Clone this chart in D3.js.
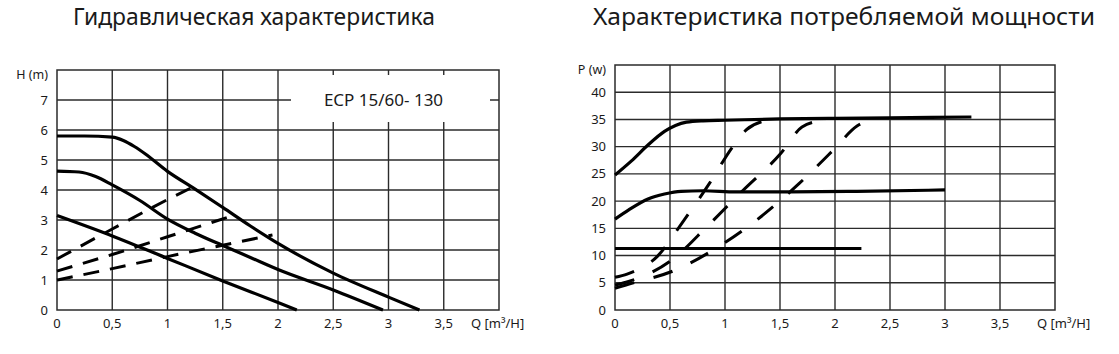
<!DOCTYPE html>
<html>
<head>
<meta charset="utf-8">
<script src="https://cdn.jsdelivr.net/npm/d3@7"></script>
<style>
    body { margin: 0; background: #fff }
    text { font-family: "Noto Sans", sans-serif; fill: #1a1a1a }
</style>
</head>
<body>
<svg id="chart" width="1119" height="354"></svg>
<script>
'use strict'

// --- data ---
const qTicks = [0, 0.5, 1, 1.5, 2, 2.5, 3, 3.5]
const qTickLabels = ['0', '0,5', '1', '1,5', '2', '2,5', '3', '3,5']
const hTicks = [0, 1, 2, 3, 4, 5, 6, 7]
const pTicks = [0, 5, 10, 15, 20, 25, 30, 35, 40]

// hydraulic curves, H (m) against Q (m3/h)
const headHigh = [[0, 5.8], [0.25, 5.8], [0.5, 5.76], [0.6, 5.65], [0.7, 5.45], [0.8, 5.2], [1, 4.62], [1.25, 4.03], [1.5, 3.42], [1.75, 2.8], [2, 2.22], [2.5, 1.23], [3, 0.43], [3.28, 0]]
const headMid = [[0, 4.63], [0.2, 4.6], [0.35, 4.45], [0.5, 4.17], [0.75, 3.65], [1, 3.03], [1.25, 2.56], [1.5, 2.15], [1.75, 1.75], [2, 1.35], [2.5, 0.67], [2.95, 0]]
const headLow = [[0, 3.15], [0.5, 2.47], [1, 1.72], [1.5, 0.97], [2, 0.25], [2.17, 0]]
const headSysA = [[0, 1.7], [0.5, 2.7], [1, 3.68], [1.23, 4.1]]
const headSysB = [[0, 1.3], [0.5, 1.85], [1, 2.44], [1.61, 3.17]]
const headSysC = [[0, 1.0], [0.5, 1.38], [1, 1.78], [1.5, 2.16], [1.95, 2.5]]

// power curves, P (w) against Q (m3/h)
const powerHigh = [[0, 24.8], [0.15, 27.4], [0.3, 30.3], [0.45, 32.8], [0.55, 33.9], [0.65, 34.5], [0.8, 34.75], [1, 34.85], [1.5, 35.1], [2, 35.2], [2.5, 35.3], [3.24, 35.45]]
const powerMid = [[0, 16.7], [0.125, 18.4], [0.3, 20.4], [0.45, 21.3], [0.6, 21.8], [0.8, 21.9], [1.1, 21.7], [1.6, 21.7], [2.2, 21.8], [3, 22.05]]
const powerLow = [[0, 11.3], [2.24, 11.3]]
const powerSysA = [[0, 6], [0.11, 6.6], [0.385, 9.85], [0.62, 16.3], [0.86, 23.3], [1.07, 30], [1.2, 33.2], [1.4, 34.9]]
const powerSysB = [[0, 4.6], [0.1, 5.1], [0.52, 9.25], [0.845, 15.5], [1.165, 22], [1.5, 28.6], [1.7, 33.6], [1.88, 34.8]]
const powerSysC = [[0, 4.0], [0.1, 4.6], [0.55, 7.35], [0.955, 11.8], [1.355, 17.6], [1.675, 23.25], [1.99, 29.5], [2.2, 33.8], [2.34, 35]]

const svg = d3.select('#chart')

svg.append('text').attr('x', 254).attr('y', 25).attr('text-anchor', 'middle')
    .attr('font-size', 24).attr('textLength', 362).attr('lengthAdjust', 'spacingAndGlyphs')
    .text('Гидравлическая характеристика')

svg.append('text').attr('x', 844).attr('y', 25).attr('text-anchor', 'middle')
    .attr('font-size', 24).attr('textLength', 502).attr('lengthAdjust', 'spacingAndGlyphs')
    .text('Характеристика потребляемой мощности')

function panel(o) {
    let x = d3.scaleLinear().domain([0, 4]).range(o.xRange)
    let y = d3.scaleLinear().domain([0, o.yMax]).range([310, o.yTop])
    let g = svg.append('g')

    let grid = g.append('g').attr('stroke', '#2b2b2b').attr('stroke-width', 1.4)

    grid.selectAll('line.v').data(d3.range(0.5, 4, 0.5)).join('line')
        .attr('x1', d => x(d)).attr('x2', d => x(d))
        .attr('y1', y(0)).attr('y2', y(o.yMax))

    grid.selectAll('line.h').data(o.yTicks.slice(1)).join('line')
        .attr('x1', x(0)).attr('x2', x(4))
        .attr('y1', d => y(d)).attr('y2', d => y(d))

    if (o.badge) {
        g.append('rect').attr('x', o.badge.x).attr('y', o.badge.y).attr('width', o.badge.w).attr('height', o.badge.h).attr('fill', '#fff')
        g.append('text').attr('x', o.badge.x + o.badge.w / 2 - 7).attr('y', o.badge.y + 31).attr('text-anchor', 'middle')
            .attr('font-size', 17).text(o.badge.text)
    }

    g.append('rect').attr('x', x(0)).attr('y', y(o.yMax)).attr('width', x(4) - x(0)).attr('height', y(0) - y(o.yMax))
        .attr('fill', 'none').attr('stroke', '#2b2b2b').attr('stroke-width', 1.5)

    g.selectAll('text.yt').data(o.yTicks).join('text')
        .attr('x', x(0) - 9).attr('y', d => y(d)).attr('dy', '0.35em').attr('text-anchor', 'end')
        .attr('font-size', 13).text(d => d)

    g.append('text').attr('x', x(0) - 9).attr('y', o.yTop + 9).attr('text-anchor', 'end')
        .attr('font-size', 12.5).text(o.yTitle)

    g.selectAll('text.xt').data(qTicks).join('text')
        .attr('x', d => x(d)).attr('y', 328).attr('text-anchor', 'middle')
        .attr('font-size', 13).text((d, i) => qTickLabels[i])

    g.append('text').attr('x', x(4) - o.qShift).attr('y', 328)
        .attr('font-size', 13).text('Q [m³/H]')

    let line = d3.line().x(d => x(d[0])).y(d => y(d[1])).curve(d3.curveMonotoneX)

    g.selectAll('path.solid').data(o.solid).join('path')
        .attr('d', line).attr('fill', 'none').attr('stroke', '#000').attr('stroke-width', 3.2)

    g.selectAll('path.dash').data(o.dashed).join('path')
        .attr('d', line).attr('fill', 'none').attr('stroke', '#000').attr('stroke-width', 3)
        .attr('stroke-dasharray', o.dash)
}

panel({
    xRange: [57, 499], yMax: 8, yTop: 70, yTicks: hTicks, yTitle: 'H (m)', qShift: 28,
    solid: [headHigh, headMid, headLow], dashed: [headSysA, headSysB, headSysC], dash: '16,11',
    badge: { x: 291, y: 75, w: 199, h: 47, text: 'ECP 15/60- 130' }
})

panel({
    xRange: [615, 1055], yMax: 45, yTop: 65, yTicks: pTicks, yTitle: 'P (w)', qShift: 18,
    solid: [powerHigh, powerMid, powerLow], dashed: [powerSysA, powerSysB, powerSysC], dash: '20,20'
})
</script>
</body>
</html>
